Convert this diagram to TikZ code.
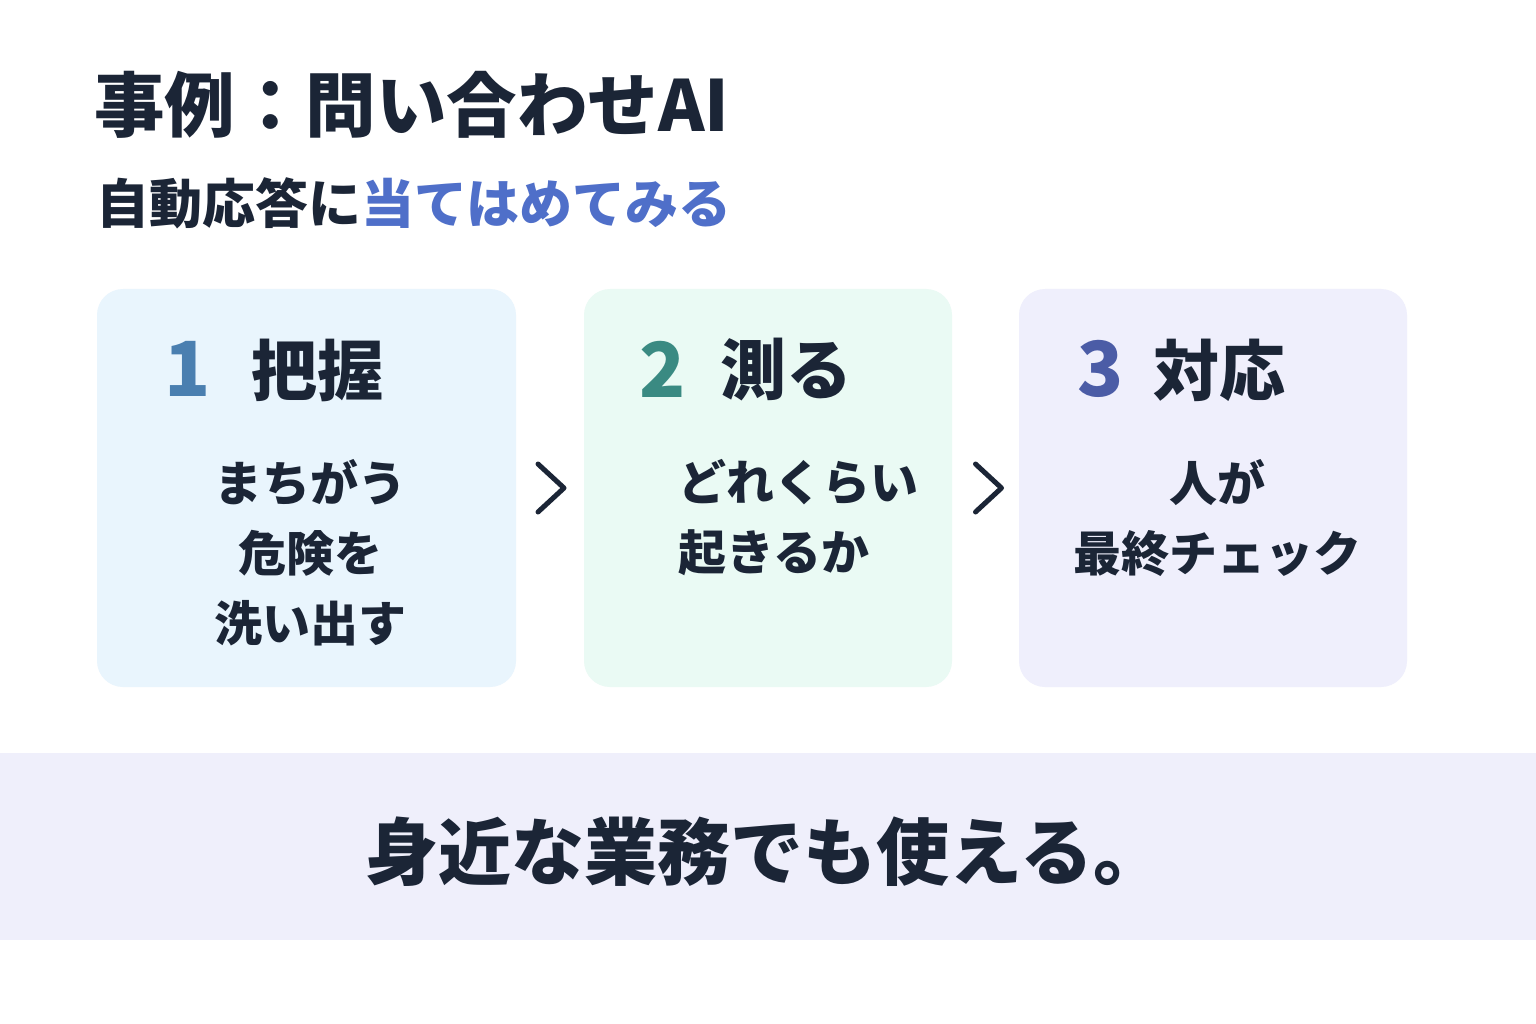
\documentclass[tikz,border=0pt]{standalone}
\usepackage{fontspec}
\setmainfont{Noto Sans CJK JP}
\usepackage{xcolor}
\usetikzlibrary{calc}

\definecolor{ink}{HTML}{1B2536}
\definecolor{accent}{HTML}{4F6FC9}
\definecolor{numA}{HTML}{4A7FB0}
\definecolor{numB}{HTML}{3A8A82}
\definecolor{numC}{HTML}{4B5CA6}
\definecolor{fillA}{HTML}{E9F5FD}
\definecolor{fillB}{HTML}{EAFAF4}
\definecolor{fillC}{HTML}{EFEFFC}
\definecolor{bandfill}{HTML}{EFEFFB}

\begin{document}
\begin{tikzpicture}[x=1pt, y=-1pt, every node/.style={inner sep=0pt, text=ink},
  card/.style={rectangle, rounded corners=26pt, minimum height=398pt},
  num/.style={anchor=west, font=\bfseries\fontsize{76}{76}\selectfont},
  head/.style={anchor=west, font=\bfseries\fontsize{66}{66}\selectfont},
  body/.style={font=\bfseries\fontsize{48}{70}\selectfont},
  chev/.style={draw=ink, line width=5pt, line cap=round, line join=round}]
  \useasboundingbox[fill=white] (0,0) rectangle (1536,1024);

  \node[anchor=west, font=\bfseries\fontsize{70.5}{70}\selectfont] (title) at (94,105) {事例：問い合わせAI};
  \node[anchor=west, font=\bfseries\fontsize{53}{53}\selectfont] (sub) at (96,203) {自動応答に\textcolor{accent}{当てはめてみる}};

  \node[card, fill=fillA, minimum width=419pt] (b1) at (306.5,488) {};
  \node[card, fill=fillB, minimum width=368pt] (b2) at (768,488) {};
  \node[card, fill=fillC, minimum width=388pt] (b3) at (1213,488) {};

  \node[num, text=numA] (n1) at (164,369) {1};
  \node[head] (h1) at (251,370) {把握};
  \node[num, text=numB] (n2) at (639,369) {2};
  \node[head] (h2) at (720,370) {測る};
  \node[num, text=numC] (n3) at (1077,369) {3};
  \node[head] (h3) at (1153,370) {対応};

  \node[body, align=center] (t1) at (310,553) {まちがう\\危険を\\洗い出す};
  \node[body, align=left, anchor=west] (t2) at (678,518) {どれくらい\\起きるか};
  \node[body, align=center] (t3) at (1217,518) {人が\\最終チェック};

  \coordinate (m1) at ($(b1.east)!0.5!(b2.west)$);
  \coordinate (m2) at ($(b2.east)!0.5!(b3.west)$);
  \draw[chev] ([shift={(-12,-24)}]m1) -- ([shift={(14,0)}]m1) -- ([shift={(-12,24)}]m1);
  \draw[chev] ([shift={(-10,-24)}]m2) -- ([shift={(16,0)}]m2) -- ([shift={(-10,24)}]m2);

  \node[fill=bandfill, minimum width=1536pt, minimum height=187pt] (band) at (768,846.5) {};
  \node[font=\bfseries\fontsize{73}{73}\selectfont] (foot) at (766,852) {身近な業務でも使える。};
\end{tikzpicture}
\end{document}
